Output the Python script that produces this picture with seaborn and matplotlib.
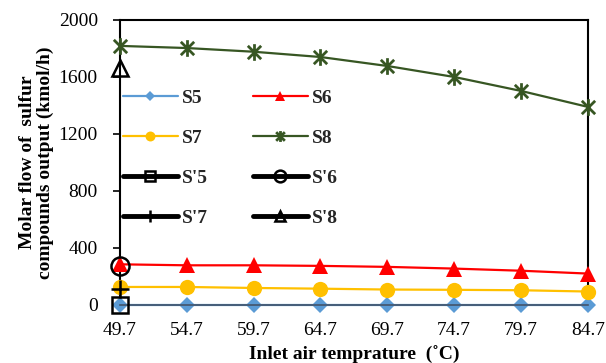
import matplotlib
matplotlib.use("Agg")
import matplotlib.pyplot as plt
import seaborn as sns
import numpy as np
import pandas as pd
from matplotlib.path import Path

temps = [49.7, 54.7, 59.7, 64.7, 69.7, 74.7, 79.7, 84.7]
s5 = [0, 0, 0, 0, 0, 0, 0, 0]
s6 = [285, 278, 278, 274, 267, 255, 240, 220]
s7 = [126, 126, 119, 114, 108, 106, 103, 94]
s8 = [1818, 1803, 1777, 1740, 1677, 1600, 1502, 1390]

prime_temp = [49.7]
sp5 = [0]
sp6 = [275]
sp7 = [115]
sp8 = [1660]

yticks = [0, 400, 800, 1200, 1600, 2000]

sns.set_theme(style="white")
plt.rcParams['font.family'] = ['Liberation Serif', 'DejaVu Serif']

fig = plt.figure(figsize=(6.06, 3.63), dpi=100)
ax = fig.add_axes([0.198, 0.160, 0.772, 0.785])

star = Path([(-1, -1), (1, 1), (-1, 1), (1, -1), (0, -1.25), (0, 1.25)],
            [Path.MOVETO, Path.LINETO, Path.MOVETO, Path.LINETO, Path.MOVETO, Path.LINETO])

df = pd.DataFrame({"T": temps, "S5": s5, "S6": s6, "S7": s7, "S8": s8})

styles = {
    "S5": dict(color="#5b9bd5", marker="D", markersize=8, mew=0),
    "S6": dict(color="#ff0000", marker="^", markersize=11, mew=0),
    "S7": dict(color="#ffc000", marker="o", markersize=11, mew=0),
    "S8": dict(color="#375623", marker=star, markersize=12, mew=2),
}
handles = {}
for name, st in styles.items():
    sns.lineplot(data=df, x="T", y=name, ax=ax, color=st["color"], marker=st["marker"],
                 markersize=st["markersize"], markeredgewidth=st["mew"],
                 markeredgecolor=st["color"], linewidth=1.6, clip_on=False, zorder=3,
                 label=name)
    handles[name] = ax.lines[-1]

pdf = pd.DataFrame({"T": prime_temp, "S'5": sp5, "S'6": sp6, "S'7": sp7, "S'8": sp8})
pstyles = {
    "S'5": dict(marker="s", markersize=12),
    "S'6": dict(marker="o", markersize=13),
    "S'7": dict(marker="+", markersize=13),
    "S'8": dict(marker="^", markersize=12),
}
for name, st in pstyles.items():
    sns.lineplot(data=pdf, x="T", y=name, ax=ax, color="black", marker=st["marker"],
                 markersize=st["markersize"], markerfacecolor="none",
                 markeredgecolor="black", markeredgewidth=1.8, linewidth=3.5,
                 clip_on=False, zorder=4, label=name)
    handles[name] = ax.lines[-1]

ax.set_xlim(49.7, 84.7)
ax.set_ylim(0, 2000)
ax.set_xticks(temps)
ax.set_xticklabels([f"{t:.1f}" for t in temps])
ax.set_yticks(yticks)
ax.tick_params(axis="y", direction="out", length=5, width=1.2, color="black",
               left=True, labelsize=14, pad=11)
ax.tick_params(axis="x", length=0, labelsize=14, pad=12)
for t in ax.get_xticklabels() + ax.get_yticklabels():
    t.set_color("black")

for side in ["left", "top", "right"]:
    ax.spines[side].set_color("black")
    ax.spines[side].set_linewidth(1.5)
ax.spines["bottom"].set_color("#44546a")
ax.spines["bottom"].set_linewidth(1.2)
ax.spines["bottom"].set_zorder(3.5)

ax.set_xlabel("Inlet air temprature  (˚C)", fontsize=14, fontweight="bold", color="black", labelpad=5)
ax.set_ylabel("Molar flow of  sulfur\ncompounds output (kmol/h)", fontsize=14,
              fontweight="bold", color="black", labelpad=3, linespacing=1.05)

order = ["S5", "S7", "S'5", "S'7", "S6", "S8", "S'6", "S'8"]
leg = ax.legend([handles[n] for n in order], order, ncol=2, loc="upper left",
                bbox_to_anchor=(-0.01, 0.784), frameon=False, handlelength=2.8,
                columnspacing=2.3, labelspacing=1.15, markerscale=0.65,
                handletextpad=0.25, borderaxespad=0,
                prop=dict(family="Liberation Serif", weight="bold", size=14))

fig.savefig("out.png", dpi=100)
